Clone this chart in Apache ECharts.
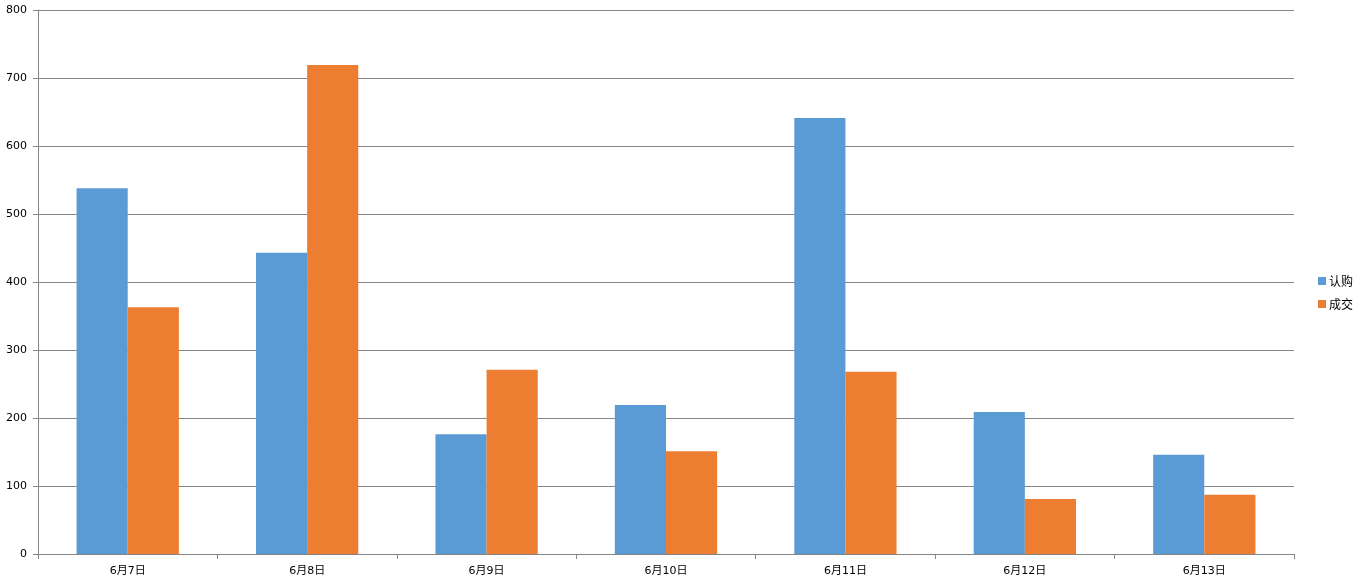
<!DOCTYPE html>
<html><head><meta charset="utf-8">
<script src="https://cdn.jsdelivr.net/npm/echarts@6/dist/echarts.min.js"></script>
<style>html,body{margin:0;padding:0;background:#fff}#c{width:1364px;height:588px}</style>
</head><body><div id="c"></div>
<script>
const categories = ['6月7日','6月8日','6月9日','6月10日','6月11日','6月12日','6月13日'];
const seriesNames = ['认购','成交'];
const subscribe = [538, 443, 176, 219, 641, 209, 146];
const deal = [363, 719, 271, 151, 268, 81, 87];
const yTicks = [0, 100, 200, 300, 400, 500, 600, 700, 800];

const chart = echarts.init(document.getElementById('c'), null, {renderer:'canvas'});
const font = 'Verdana, "DejaVu Sans", "Noto Sans CJK SC", sans-serif';
chart.setOption({
  animation: false,
  backgroundColor: '#fff',
  grid: {left: 38, right: 70, top: 10, bottom: 34, containLabel: false},
  legend: {
    orient: 'vertical', left: 1313, top: 270,
    itemWidth: 8, itemHeight: 8, itemGap: 11,
    icon: 'rect',
    textStyle: {fontSize: 12, color: '#000', fontFamily: '"Noto Sans CJK SC", sans-serif', padding: [0,0,0,-2]},
    data: seriesNames
  },
  xAxis: {
    type: 'category', data: categories,
    axisLine: {lineStyle: {color: '#868686', width: 1}},
    axisTick: {show: true, alignWithLabel: false, length: 5, lineStyle: {color: '#868686'}},
    axisLabel: {color: '#000', fontSize: 11, fontFamily: font, margin: 12}
  },
  yAxis: {
    type: 'value', min: yTicks[0], max: yTicks[yTicks.length-1], interval: 100,
    axisLine: {show: true, lineStyle: {color: '#868686', width: 1}},
    axisTick: {show: true, length: 5, lineStyle: {color: '#868686'}},
    axisLabel: {color: '#000', fontSize: 11, fontFamily: font, margin: 11},
    splitLine: {lineStyle: {color: '#868686', width: 1}}
  },
  series: [
    {name: seriesNames[0], type: 'bar', data: subscribe, barGap: '0%', barCategoryGap: '43%', itemStyle: {color: '#5B9BD5'}},
    {name: seriesNames[1], type: 'bar', data: deal, barGap: '0%', barCategoryGap: '43%', itemStyle: {color: '#ED7D31'}}
  ]
});
</script></body></html>
